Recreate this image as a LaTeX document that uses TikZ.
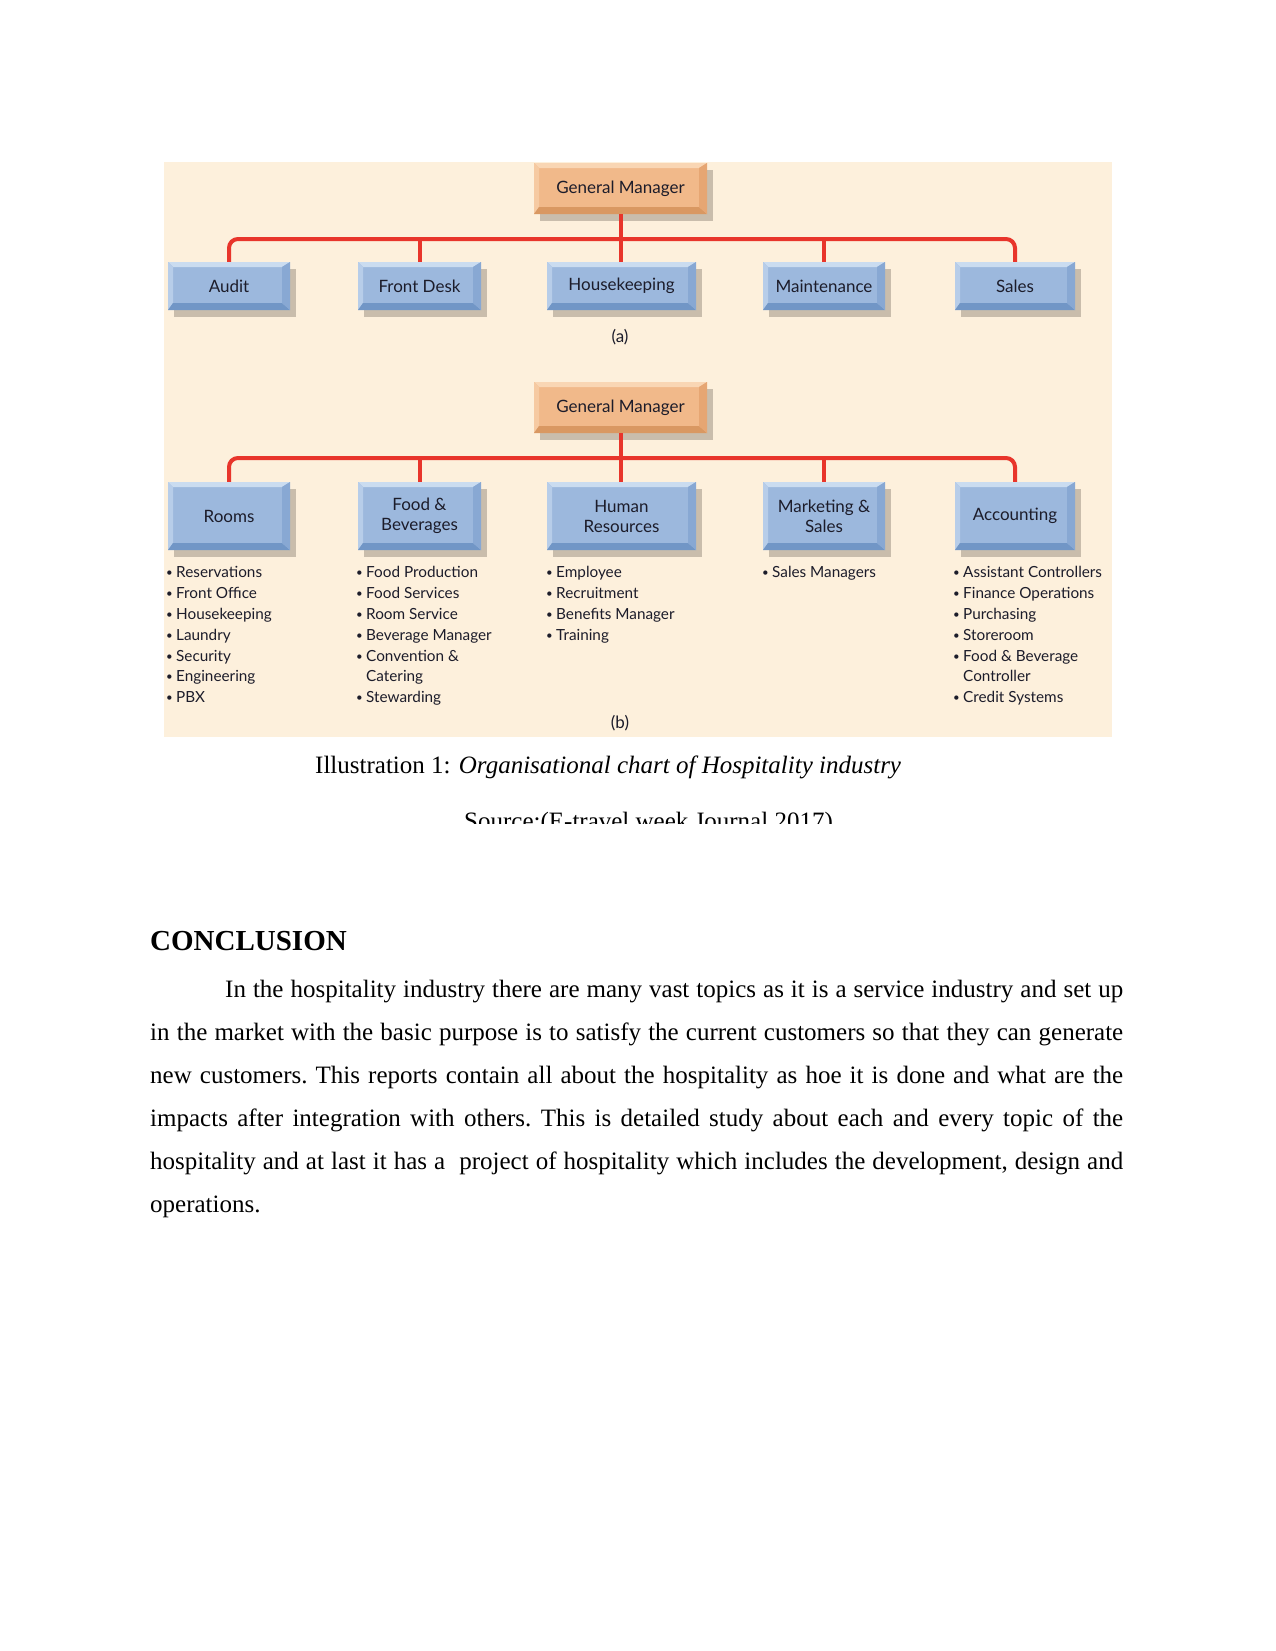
\documentclass[tikz,border=0pt]{standalone}
\usepackage{fontspec}
\usepackage{graphicx}
\setmainfont{Liberation Serif}
\newfontfamily\chartfont{Lato}
\usetikzlibrary{shadows}
\definecolor{bgc}{HTML}{FDF0DC}
\definecolor{redc}{HTML}{E8352B}
\definecolor{shadowc}{HTML}{C9BDAC}
\definecolor{bface}{HTML}{9CB8DD}
\definecolor{btop}{HTML}{CADCF0}
\definecolor{bleft}{HTML}{B7CDE9}
\definecolor{bbot}{HTML}{7196C6}
\definecolor{bright}{HTML}{88A8D3}
\definecolor{oface}{HTML}{F1B98A}
\definecolor{otop}{HTML}{F9D6B4}
\definecolor{oleft}{HTML}{F6CAA2}
\definecolor{obot}{HTML}{D99862}
\definecolor{oright}{HTML}{E6A673}
\definecolor{ctext}{HTML}{1C1C2A}
\newcommand\bevelpic[4]{%
  \fill[#1] (path picture bounding box.north west) -- (path picture bounding box.north east)
    -- ([xshift=-8pt,yshift=-5pt]path picture bounding box.north east)
    -- ([xshift=5pt,yshift=-5pt]path picture bounding box.north west) -- cycle;
  \fill[#2] (path picture bounding box.north west) -- ([xshift=5pt,yshift=-5pt]path picture bounding box.north west)
    -- ([xshift=5pt,yshift=7pt]path picture bounding box.south west)
    -- (path picture bounding box.south west) -- cycle;
  \fill[#3] (path picture bounding box.south west) -- ([xshift=5pt,yshift=7pt]path picture bounding box.south west)
    -- ([xshift=-8pt,yshift=7pt]path picture bounding box.south east)
    -- (path picture bounding box.south east) -- cycle;
  \fill[#4] (path picture bounding box.north east) -- ([xshift=-8pt,yshift=-5pt]path picture bounding box.north east)
    -- ([xshift=-8pt,yshift=7pt]path picture bounding box.south east)
    -- (path picture bounding box.south east) -- cycle;}
\newcommand\bul[1]{\makebox[10pt][l]{\raisebox{1pt}{\scalebox{0.75}{•}}}#1}
\newcommand\cont[1]{\hspace*{10pt}#1}
\tikzset{
  boxbase/.style={inner sep=0pt, align=center, text=ctext,
    font=\chartfont\fontsize{17}{20}\selectfont,
    drop shadow={shadow xshift=6pt, shadow yshift=-7pt, fill=shadowc, opacity=1}},
  bluebox/.style={boxbase, fill=bface, path picture={\bevelpic{btop}{bleft}{bbot}{bright}}},
  orangebox/.style={boxbase, fill=oface, path picture={\bevelpic{otop}{oleft}{obot}{oright}}},
  redline/.style={draw=redc, line width=4pt},
  listtext/.style={anchor=north west, inner sep=0pt, align=left, text=ctext,
    font=\chartfont\fontsize{15.3}{20.8}\selectfont},
  sublabel/.style={inner sep=0pt, text=ctext, font=\chartfont\fontsize{17}{20}\selectfont},
  doctext/.style={inner sep=0pt, font=\fontsize{25}{43}\selectfont}
}
\begin{document}
\begin{tikzpicture}[x=1pt,y=-1pt]
\useasboundingbox[fill=white] (0,0) rectangle (1275,1651);
\fill[bgc] (164,162) rectangle (1112,737);

% ---- (a)
\node[orangebox, minimum width=173pt, minimum height=51pt] (gmA) at (620.5,188.5) {General Manager};
\node[bluebox, minimum width=122pt, minimum height=48pt] (audit) at (229,286) {Audit};
\node[bluebox, minimum width=123pt, minimum height=48pt] (fdesk) at (419.5,286) {Front Desk};
\node[bluebox, minimum width=149pt, minimum height=48pt] (hkeep) at (621.5,286) {Housekeeping};
\node[bluebox, minimum width=122pt, minimum height=48pt] (maint) at (824,286) {Maintenance};
\node[bluebox, minimum width=120pt, minimum height=48pt] (salesA) at (1015,286) {Sales};
\coordinate (busA) at (620,239);
\draw[redline, rounded corners=9pt] (audit.north) -- (audit.north |- busA) -- (salesA.north |- busA) -- (salesA.north);
\draw[redline] (fdesk.north) -- (fdesk.north |- busA);
\draw[redline] (maint.north) -- (maint.north |- busA);
\draw[redline] (gmA.south) -- (gmA.south |- hkeep.north);
\node[sublabel] (labA) at (620,337) {(a)};

% ---- (b)
\node[orangebox, minimum width=173pt, minimum height=51pt] (gmB) at (620.5,407.5) {General Manager};
\node[bluebox, minimum width=122pt, minimum height=68pt] (rooms) at (229,516) {Rooms};
\node[bluebox, minimum width=123pt, minimum height=68pt] (fandb) at (419.5,516) {Food \&\\Beverages};
\node[bluebox, minimum width=149pt, minimum height=68pt] (hres) at (621.5,516) {Human\\Resources};
\node[bluebox, minimum width=122pt, minimum height=68pt] (mkt) at (824,516) {Marketing \&\\Sales};
\node[bluebox, minimum width=120pt, minimum height=68pt] (acct) at (1015,516) {Accounting};
\coordinate (busB) at (620,458);
\draw[redline, rounded corners=9pt] (rooms.north) -- (rooms.north |- busB) -- (acct.north |- busB) -- (acct.north);
\draw[redline] (fandb.north) -- (fandb.north |- busB);
\draw[redline] (mkt.north) -- (mkt.north |- busB);
\draw[redline] (gmB.south) -- (gmB.south |- hres.north);

\node[listtext] (lrooms) at (166,566.5) {\bul{Reservations}\\\bul{Front Office}\\\bul{Housekeeping}\\\bul{Laundry}\\\bul{Security}\\\bul{Engineering}\\\bul{PBX}};
\node[listtext] (lfandb) at (356,566.5) {\bul{Food Production}\\\bul{Food Services}\\\bul{Room Service}\\\bul{Beverage Manager}\\\bul{Convention \&}\\\cont{Catering}\\\bul{Stewarding}};
\node[listtext] (lhres) at (546,566.5) {\bul{Employee}\\\bul{Recruitment}\\\bul{Benefits Manager}\\\bul{Training}};
\node[listtext] (lmkt) at (762,566.5) {\bul{Sales Managers}};
\node[listtext] (lacct) at (953,566.5) {\bul{Assistant Controllers}\\\bul{Finance Operations}\\\bul{Purchasing}\\\bul{Storeroom}\\\bul{Food \& Beverage}\\\cont{Controller}\\\bul{Credit Systems}};
\node[sublabel] (labB) at (620,723) {(b)};

% ---- document text
\node[doctext, anchor=base west] (caption) at (315,773) {Illustration 1: \textit{Organisational chart of Hospitality industry}};
\begin{scope}
\clip (0,0) rectangle (1275,823);
\node[doctext, anchor=base west] (source) at (464,829) {Source:(E-travel week Journal 2017)};
\end{scope}
\node[inner sep=0pt, anchor=base west, font=\bfseries\fontsize{29}{35}\selectfont] (concl) at (150,950) {CONCLUSION};
\node[doctext, anchor=north west, text width=973pt, align=justify] (para) at (150,980) {\frenchspacing\hspace*{75pt}In the hospitality industry there are many vast topics as it is a service industry and set up\linebreak
in the market with the basic purpose is to satisfy the current customers so that they can generate\linebreak
new customers. This reports contain all about the hospitality as hoe it is done and what are the\linebreak
impacts after integration with others. This is detailed study about each and every topic of the\linebreak
hospitality and at last it has a~ project of hospitality which includes the development, design and\linebreak
operations.};
\end{tikzpicture}
\end{document}
